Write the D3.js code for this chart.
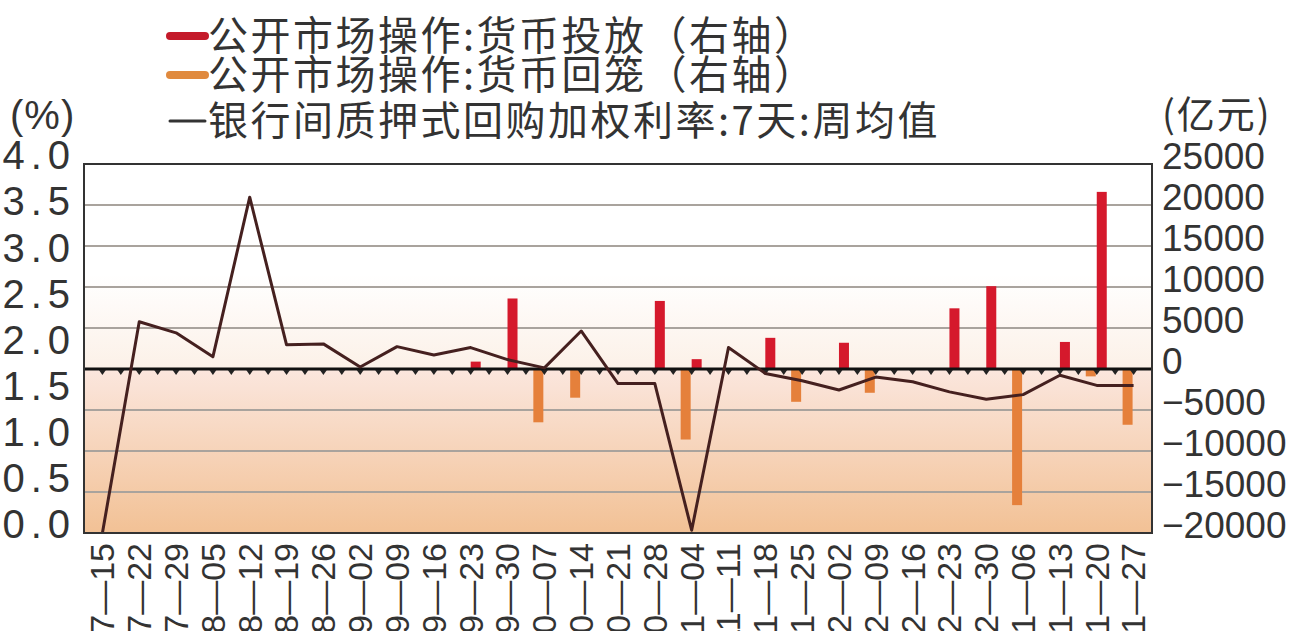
<!DOCTYPE html>
<html lang="zh">
<head>
    <meta charset="UTF-8">
    <title>公开市场操作与银行间质押式回购利率</title>
    <style>
        body { margin: 0; background: #fff; }
        svg { display: block; }
        .cjk { font-family: "Noto Sans CJK SC", sans-serif; fill: #333; }
        .num { font-family: "Liberation Sans", Arial, sans-serif; fill: #333; }
        .rate-line { fill: none; stroke: #45201f; stroke-width: 3px; stroke-linejoin: round; }
    </style>
</head>
<body>

<svg width="1294" height="631"></svg>

<script src="https://cdn.jsdelivr.net/npm/d3@7/dist/d3.min.js"></script>

<script>
    // week labels (month—day)
    var weeks = ["07—15", "07—22", "07—29", "08—05", "08—12", "08—19", "08—26", "09—02",
        "09—09", "09—16", "09—23", "09—30", "10—07", "10—14", "10—21", "10—28",
        "11—04", "11—11", "11—18", "11—25", "12—02", "12—09", "12—16", "12—23",
        "12—30", "01—06", "01—13", "01—20", "01—27"];

    // 银行间质押式回购加权利率:7天:周均值 (%)
    var rate = [0.00, 2.29, 2.17, 1.91, 3.64, 2.04, 2.05, 1.80, 2.02, 1.93, 2.01, 1.88,
        1.79, 2.19, 1.62, 1.62, 0.03, 2.01, 1.73, 1.65, 1.55, 1.69, 1.64, 1.53,
        1.45, 1.50, 1.71, 1.60, 1.60];

    // 货币投放 (亿元)
    var injection = [0, 0, 0, 0, 0, 0, 0, 0, 0, 0, 900, 8600,
        0, 0, 0, 8300, 1200, 0, 3800, 0, 3200, 0, 0, 7400,
        10100, 0, 3300, 21600, 0];

    // 货币回笼 (亿元)
    var withdrawal = [0, 0, 0, 0, 0, 0, 0, 0, 0, 0, 0, 0,
        -6500, -3500, 0, 0, -8600, 0, 0, -4000, 0, -2900, 0, 0,
        0, -16600, 0, -900, -6800];

    var leftTicks = [0, 0.5, 1, 1.5, 2, 2.5, 3, 3.5, 4];
    var rightTicks = [-20000, -15000, -10000, -5000, 0, 5000, 10000, 15000, 20000, 25000];

    var legendItems = ["公开市场操作:货币投放（右轴）", "公开市场操作:货币回笼（右轴）", "银行间质押式回购加权利率:7天:周均值"];

    var svg = d3.select("svg");
    var plot = {left: 84, right: 1152, top: 164, bottom: 533};

    var x = d3.scaleBand().domain(weeks).range([plot.left, plot.right]);
    var yL = d3.scaleLinear().domain([0, 4]).range([plot.bottom, plot.top]);
    var yR = d3.scaleLinear().domain([-20000, 25000]).range([plot.bottom, plot.top]);
    var cx = d => x(d) + x.bandwidth() / 2;

    // background gradient
    var defs = svg.append("defs");
    var grad = defs.append("linearGradient").attr("id", "bg")
        .attr("x1", 0).attr("y1", 0).attr("x2", 0).attr("y2", 1);
    var zf = (yR(0) - plot.top) / (plot.bottom - plot.top);
    grad.append("stop").attr("offset", 0).attr("stop-color", "#ffffff");
    grad.append("stop").attr("offset", 0.3).attr("stop-color", "#ffffff");
    grad.append("stop").attr("offset", zf - 0.005).attr("stop-color", "#fcf1e8");
    grad.append("stop").attr("offset", zf + 0.005).attr("stop-color", "#fbe6dd");
    grad.append("stop").attr("offset", 1).attr("stop-color", "#f2c195");

    svg.append("rect")
        .attr("x", plot.left).attr("y", plot.top)
        .attr("width", plot.right - plot.left).attr("height", plot.bottom - plot.top)
        .attr("fill", "url(#bg)");

    // gridlines
    svg.append("g").selectAll("line")
        .data(rightTicks.filter(t => t !== 0 && t !== -20000 && t !== 25000))
        .join("line")
        .attr("x1", plot.left).attr("x2", plot.right)
        .attr("y1", d => yR(d)).attr("y2", d => yR(d))
        .attr("stroke", "#a9a39d").attr("stroke-width", 2);

    // bars
    var bw = 10;
    svg.append("g").selectAll("rect")
        .data(weeks.map((w, i) => ({w: w, v: withdrawal[i]})).filter(d => d.v !== 0))
        .join("rect")
        .attr("x", d => cx(d.w) - bw - 1)
        .attr("y", yR(0))
        .attr("width", bw)
        .attr("height", d => yR(d.v) - yR(0))
        .attr("fill", "#e5803b");

    svg.append("g").selectAll("rect")
        .data(weeks.map((w, i) => ({w: w, v: injection[i]})).filter(d => d.v !== 0))
        .join("rect")
        .attr("x", d => cx(d.w))
        .attr("y", d => yR(d.v))
        .attr("width", bw)
        .attr("height", d => yR(0) - yR(d.v))
        .attr("fill", "#d5192c");

    // zero line with small ticks
    var y0 = yR(0);
    svg.append("line")
        .attr("x1", plot.left).attr("x2", plot.right)
        .attr("y1", y0).attr("y2", y0)
        .attr("stroke", "#111").attr("stroke-width", 3);

    var tickX = [];
    weeks.forEach(function (w, i) {
        if (i > 0) tickX.push(x(w));
        tickX.push(cx(w));
    });
    svg.append("g").selectAll("path")
        .data(tickX)
        .join("path")
        .attr("d", d => `M${d - 3.5},${y0 + 1} L${d + 3.5},${y0 + 1} L${d},${y0 + 6} Z`)
        .attr("fill", "#222");

    // rate line
    var line = d3.line()
        .x((d, i) => cx(weeks[i]))
        .y(d => yL(d));
    svg.append("path")
        .datum(rate)
        .attr("class", "rate-line")
        .attr("d", line);

    // frame
    svg.append("rect")
        .attr("x", plot.left).attr("y", plot.top)
        .attr("width", plot.right - plot.left).attr("height", plot.bottom - plot.top)
        .attr("fill", "none").attr("stroke", "#333").attr("stroke-width", 2);

    // left axis
    var gl = svg.append("g")
        .attr("transform", `translate(${plot.left}, 0)`)
        .call(d3.axisLeft(yL).tickValues(leftTicks).tickFormat(d3.format(".1f")).tickSize(0));
    gl.select(".domain").remove();
    gl.selectAll("text")
        .attr("class", "num")
        .attr("x", -8).attr("dy", "0.12em")
        .style("font-size", "40px")
        .style("letter-spacing", "6px")
        .attr("fill", "#333");

    // right axis
    var gr = svg.append("g")
        .attr("transform", `translate(${plot.right}, 0)`)
        .call(d3.axisRight(yR).tickValues(rightTicks).tickFormat(d3.format("d")).tickSize(0));
    gr.select(".domain").remove();
    gr.selectAll("text")
        .attr("class", "num")
        .attr("x", 10).attr("dy", "0.12em")
        .style("font-size", "37px")
        .attr("fill", "#333");

    // x axis labels (rotated)
    var gx = svg.append("g")
        .attr("transform", `translate(0, ${plot.bottom})`)
        .call(d3.axisBottom(x).tickSize(0));
    gx.select(".domain").remove();
    gx.selectAll("text")
        .attr("class", "num")
        .attr("y", 0).attr("dy", "0.35em")
        .attr("text-anchor", "end")
        .attr("transform", "translate(0, 10) rotate(-90)")
        .style("font-size", "34px")
        .attr("fill", "#333");

    // unit labels
    svg.append("text").attr("class", "num")
        .attr("x", 10).attr("y", 129)
        .style("font-size", "40px").style("letter-spacing", "1px")
        .text("(%)");
    svg.append("text").attr("class", "cjk")
        .attr("x", 1162).attr("y", 128)
        .style("font-size", "38px").style("letter-spacing", "2px")
        .text("(亿元)");

    // legend
    var legendY = [36, 75, 121];
    var legendStroke = [
        {color: "#c41a2a", width: 8},
        {color: "#e08a3e", width: 8},
        {color: "#333", width: 3}
    ];
    var lg = svg.append("g");
    legendItems.forEach(function (t, i) {
        lg.append("line")
            .attr("x1", 170).attr("x2", 205)
            .attr("y1", legendY[i]).attr("y2", legendY[i])
            .attr("stroke", legendStroke[i].color)
            .attr("stroke-width", legendStroke[i].width)
            .attr("stroke-linecap", "round");
        lg.append("text")
            .attr("class", "cjk")
            .attr("x", 208).attr("y", legendY[i])
            .attr("dy", "0.36em")
            .style("font-size", "40px")
            .style("letter-spacing", "2.5px")
            .text(t);
    });
</script>

</body>
</html>
